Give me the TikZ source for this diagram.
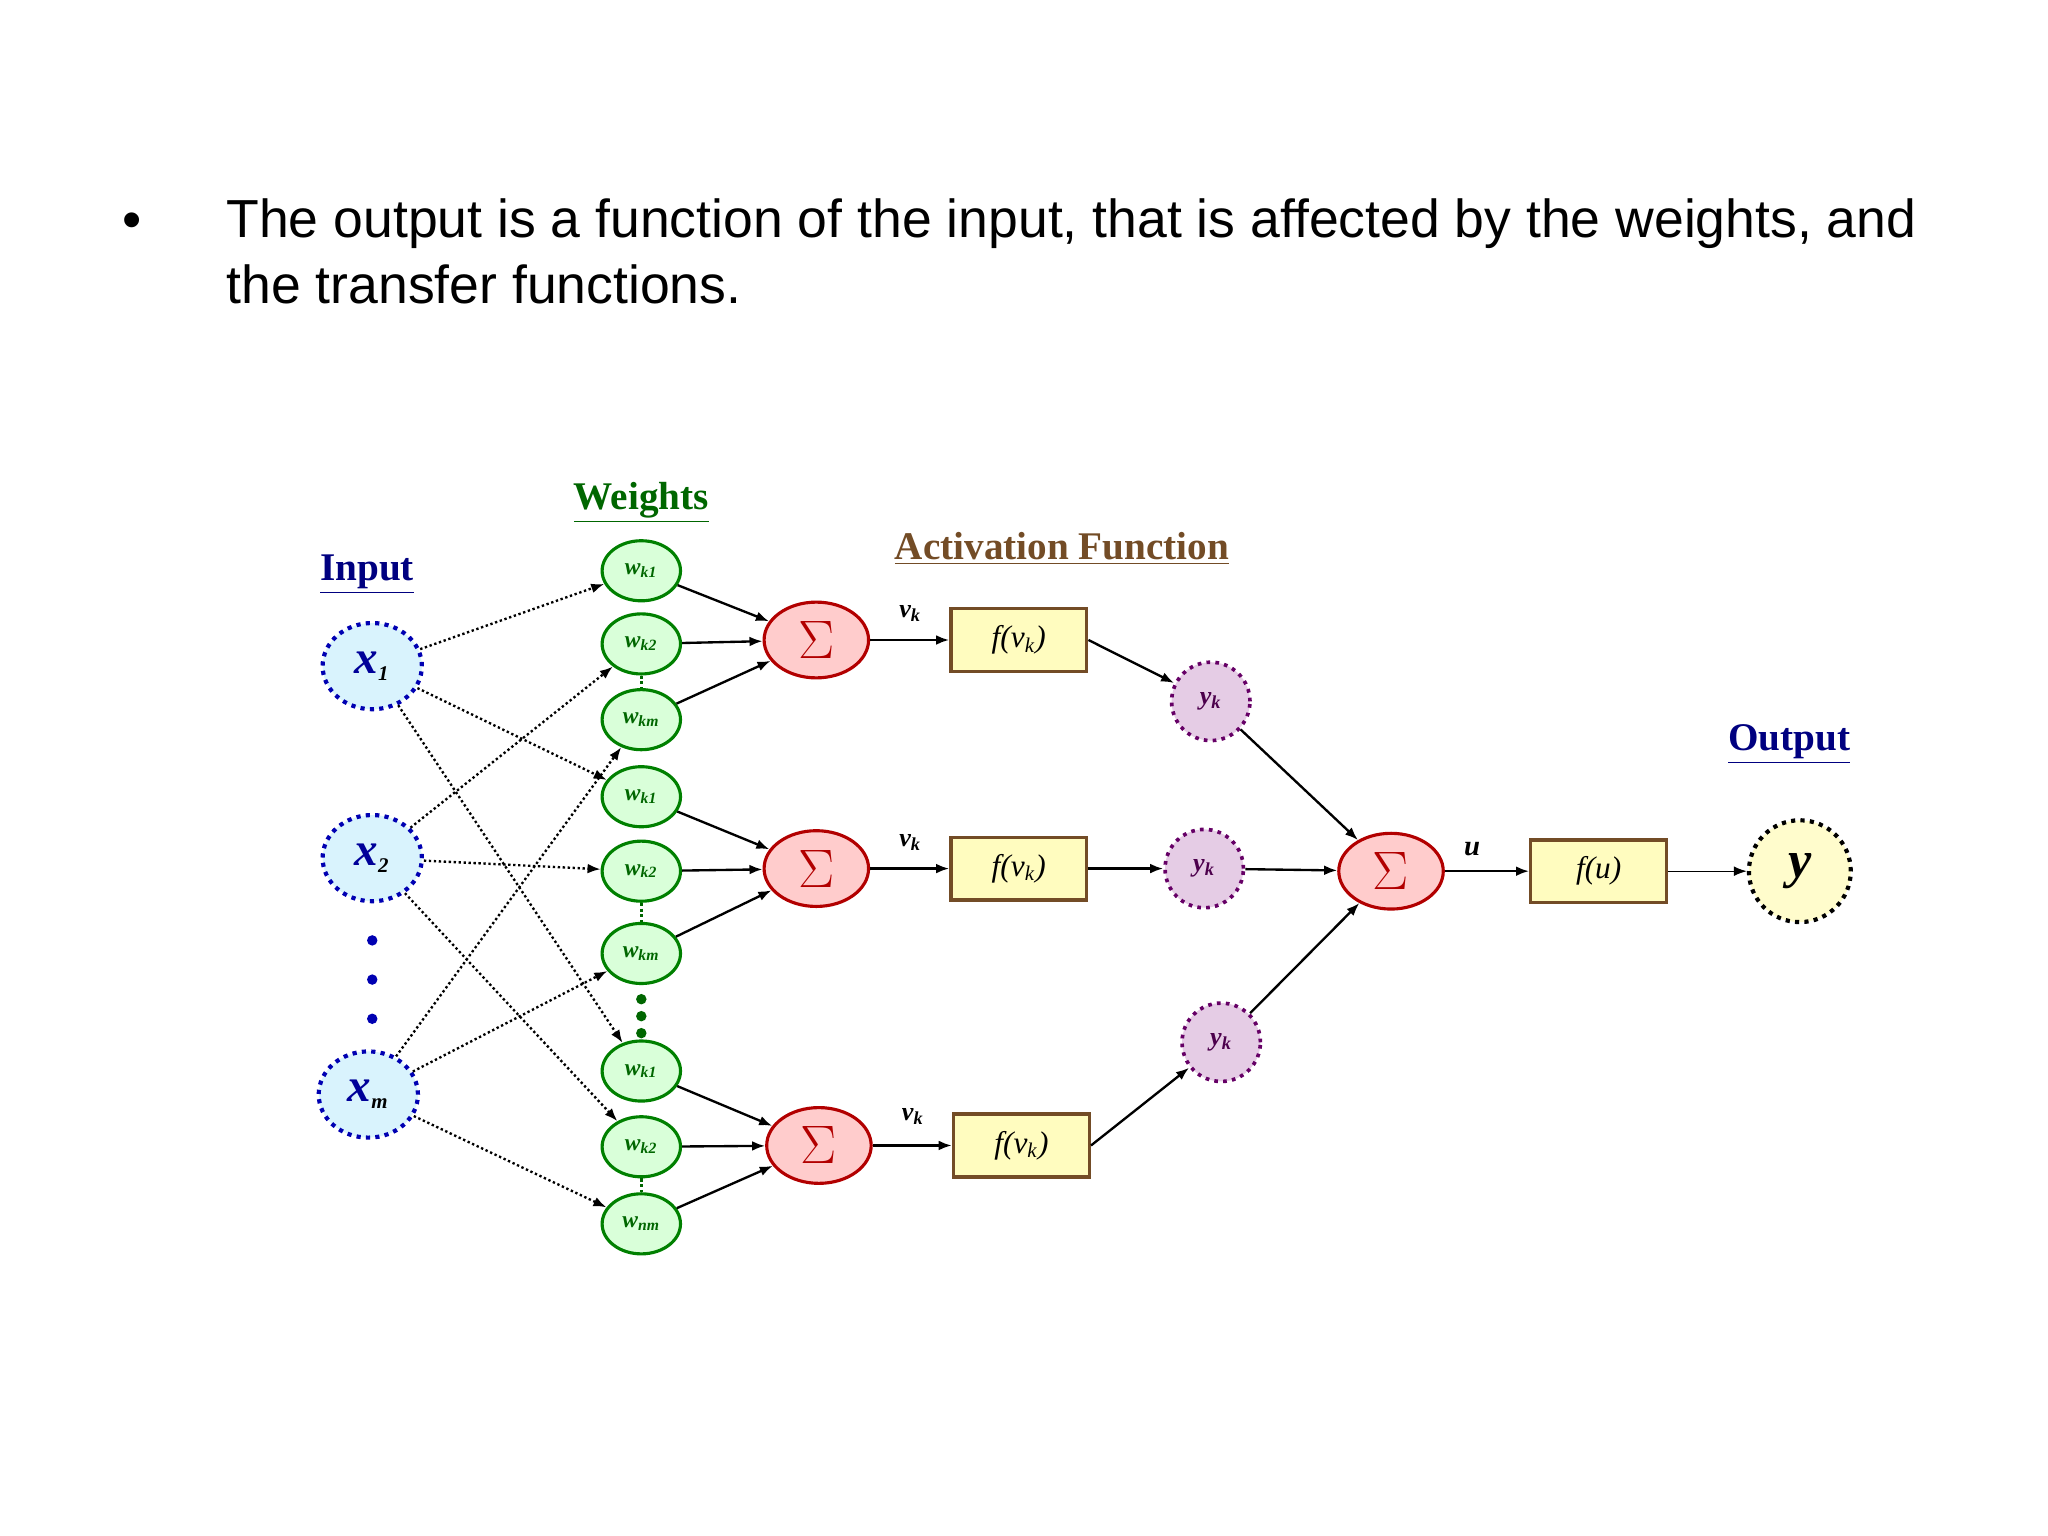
\documentclass[tikz,border=0pt]{standalone}
\usepackage{fontspec}
\setmainfont{Liberation Serif}
\newfontfamily\arial{Liberation Sans}
\usetikzlibrary{arrows.meta,shapes.geometric}
\begin{document}
\begin{tikzpicture}[x=0.5pt,y=-0.5pt,
  inp/.style={ellipse,draw=blue!70!black,fill=cyan!15,line width=1.6pt,dotted,minimum width=38pt,minimum height=33pt,inner sep=0pt},
  wt/.style={ellipse,draw=green!50!black,fill=green!15,line width=1.2pt,minimum width=30pt,minimum height=23pt,inner sep=0pt,font=\bfseries\itshape\fontsize{9}{9}\selectfont,text=green!40!black},
  sig/.style={ellipse,draw=red!70!black,fill=red!20,line width=1.2pt,minimum width=40pt,minimum height=29pt,inner sep=0pt,text=red!70!black,font=\fontsize{22}{22}\selectfont},
  fbox/.style={draw=brown!60!black,fill=yellow!25,line width=1.3pt,minimum width=52pt,minimum height=24pt,inner sep=0pt,font=\itshape\fontsize{12}{12}\selectfont},
  yk/.style={circle,draw=violet!80!black,fill=violet!20,line width=1.4pt,dotted,minimum size=30pt,inner sep=0pt,font=\bfseries\itshape\fontsize{10}{10}\selectfont,text=violet!60!black},
  dar/.style={-{Latex[length=5pt]},densely dotted,line width=0.9pt},
  sar/.style={-{Latex[length=5pt]},line width=0.9pt},
  ttl/.style={font=\bfseries\fontsize{15}{15}\selectfont}]
\useasboundingbox (0,0) rectangle (1568,1176);
\node[anchor=north west,font=\arial\fontsize{20.5}{25}\selectfont,align=left,inner sep=0pt] (txt) at (173,152) {The output is a function of the input, that is affected by the weights, and\\the transfer functions.};
\node[font=\arial\fontsize{21}{25}\selectfont] (bul) at (101,173) {\textbullet};
\node[ttl,text=blue!50!black] (lin) at (281,440) {\underline{Input}};
\node[ttl,text=green!40!black] (lw) at (491,385) {\underline{Weights}};
\node[ttl,text=brown!60!black] (la) at (813,420) {\underline{Activation Function}};
\node[ttl,text=blue!50!black] (lo) at (1370,570) {\underline{Output}};
\node[inp] (x1) at (285,510) {\bfseries\itshape\fontsize{18}{18}\selectfont\textcolor{blue!60!black}{x}\textsubscript{\fontsize{8}{8}\selectfont 1}};
\node[inp] (x2) at (285,657) {\bfseries\itshape\fontsize{18}{18}\selectfont\textcolor{blue!60!black}{x}\textsubscript{\fontsize{8}{8}\selectfont 2}};
\node[inp] (xm) at (282,838) {\bfseries\itshape\fontsize{18}{18}\selectfont\textcolor{blue!60!black}{x}\textsubscript{\fontsize{8}{8}\selectfont m}};
\foreach \yy [count=\i] in {720,750,780}{\fill[blue!70!black] (285,\yy) circle (2pt) coordinate (dd\i);}
\foreach \n/\yy/\lab in {a1/437/k1,a2/493/k2,a3/551/km,b1/610/k1,b2/667/k2,b3/730/km,c1/820/k1,c2/878/k2,c3/937/nm}{
  \node[wt] (\n) at (491,\yy) {w\textsubscript{\lab}};}
\foreach \g in {a,b,c}{\draw[green!40!black,densely dotted,line width=1.2pt] (\g2) -- (\g3);}
\foreach \yy in {765,778,791}{\fill[green!40!black] (491,\yy) circle (2pt);}
\node[sig] (s1) at (625,490) {$\Sigma$};
\node[sig] (s2) at (625,665) {$\Sigma$};
\node[sig] (s3) at (627,877) {$\Sigma$};
\node[fbox] (f1) at (780,490) {f(v\textsubscript{k})};
\node[fbox] (f2) at (780,665) {f(v\textsubscript{k})};
\node[fbox] (f3) at (782,877) {f(v\textsubscript{k})};
\node[yk] (y1) at (927,537) {y\textsubscript{k}};
\node[yk] (y2) at (922,665) {y\textsubscript{k}};
\node[yk] (y3) at (935,798) {y\textsubscript{k}};
\node[sig] (so) at (1065,667) {$\Sigma$};
\node[fbox] (fu) at (1224,667) {f(u)};
\node[circle,draw=black,fill=yellow!20,line width=1.6pt,dotted,minimum size=39pt,inner sep=0pt,font=\bfseries\itshape\fontsize{20}{20}\selectfont] (yo) at (1378,667) {y};
\foreach \p in {(697,470),(697,645),(699,855)}{\node[font=\bfseries\itshape\fontsize{10}{10}\selectfont] at \p {v\textsubscript{k}};}
\node[font=\bfseries\itshape\fontsize{11}{11}\selectfont] (ul) at (1127,650) {u};
\draw[dar] (x1) -- (a1); \draw[dar] (x1) -- (b1); \draw[dar] (x1) -- (c1);
\draw[dar] (x2) -- (a2); \draw[dar] (x2) -- (b2); \draw[dar] (x2) -- (c2);
\draw[dar] (xm) -- (a3); \draw[dar] (xm) -- (b3); \draw[dar] (xm) -- (c3);
\foreach \g/\s in {a/s1,b/s2,c/s3}{\foreach \k in {1,2,3}{\draw[sar] (\g\k) -- (\s);}}
\draw[sar] (s1) -- (f1); \draw[sar] (s2) -- (f2); \draw[sar] (s3) -- (f3);
\draw[sar] (f1.east) -- (y1); \draw[sar] (f2) -- (y2); \draw[sar] (f3.east) -- (y3);
\draw[sar] (y1) -- (so); \draw[sar] (y2) -- (so); \draw[sar] (y3) -- (so);
\draw[sar] (so) -- (fu); \draw[sar,line width=0.5pt] (fu) -- (yo);
\end{tikzpicture}
\end{document}
